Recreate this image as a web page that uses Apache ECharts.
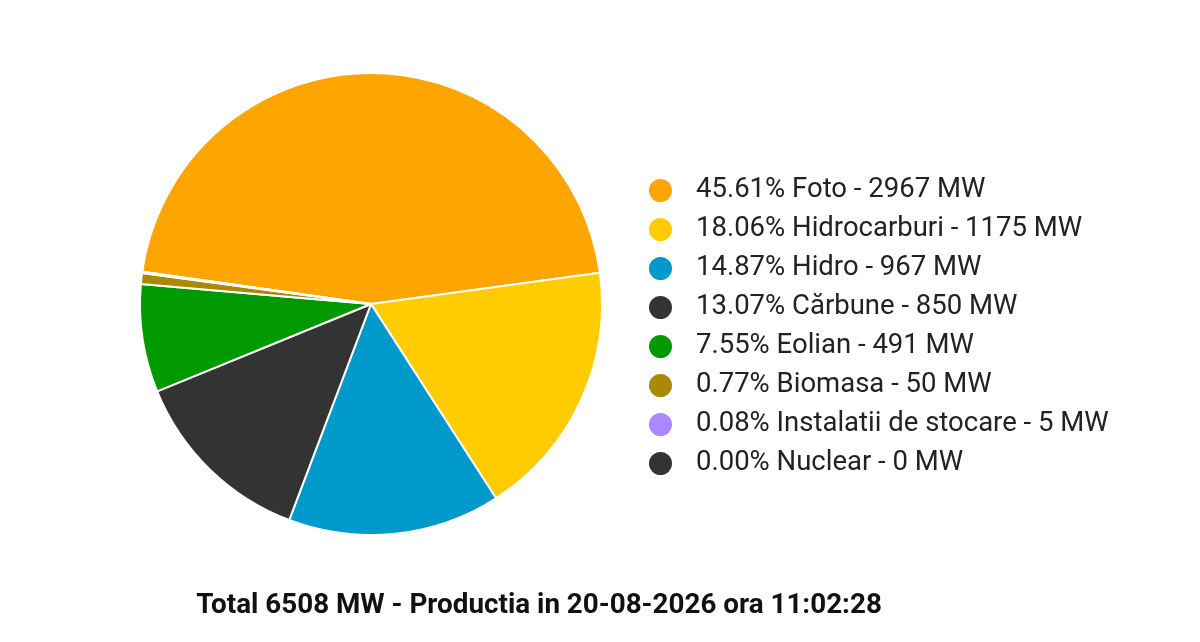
<!DOCTYPE html>
<html>
<head>
<meta charset="utf-8">
<script src="https://cdn.jsdelivr.net/npm/echarts@6/dist/echarts.min.js"></script>
<style>
  html, body { margin: 0; padding: 0; background: #fff; }
  #main { width: 1200px; height: 642px; }
</style>
</head>
<body>
<div id="main"></div>
<script>
// date din imagine
var categories = ['Foto', 'Hidrocarburi', 'Hidro', 'Cărbune', 'Eolian', 'Biomasa', 'Instalatii de stocare', 'Nuclear'];
var valuesMW = [2967, 1175, 967, 850, 491, 50, 5, 0];
var percents = ['45.61', '18.06', '14.87', '13.07', '7.55', '0.77', '0.08', '0.00'];
var colors = ['#FFA500', '#FFCC00', '#0099CC', '#333333', '#009900', '#AA8800', '#AA88FF', '#333333'];
var totalText = 'Total 6508 MW - Productia in 20-08-2026 ora 11:02:28';

var seriesData = [];
for (var i = 0; i < categories.length; i++) {
  seriesData.push({ name: categories[i], value: valuesMW[i], itemStyle: { color: colors[i] } });
}

var myChart = echarts.init(document.getElementById('main'));

var option = {
  animation: false,
  title: {
    text: totalText,
    left: 534,
    textAlign: 'center',
    top: 587,
    textStyle: {
      fontFamily: 'Roboto',
      fontWeight: 'bold',
      fontSize: 27.8,
      color: '#111'
    }
  },
  legend: {
    orient: 'vertical',
    left: 642,
    top: 171.5,
    icon: 'circle',
    itemWidth: 25,
    itemHeight: 25,
    itemGap: 11,
    selectedMode: false,
    data: categories,
    formatter: function (name) {
      var idx = categories.indexOf(name);
      return percents[idx] + '% ' + name + ' - ' + valuesMW[idx] + ' MW';
    },
    textStyle: {
      fontFamily: 'Roboto',
      fontSize: 27.5,
      lineHeight: 25,
      color: '#222',
      padding: [0, 0, 0, 18]
    }
  },
  series: [
    {
      type: 'pie',
      center: [371, 304],
      radius: 231,
      startAngle: 172,
      clockwise: true,
      minAngle: 0,
      label: { show: false },
      labelLine: { show: false },
      itemStyle: { borderColor: '#fff', borderWidth: 2 },
      emphasis: { disabled: true },
      data: seriesData
    }
  ]
};

myChart.setOption(option);
</script>
</body>
</html>
